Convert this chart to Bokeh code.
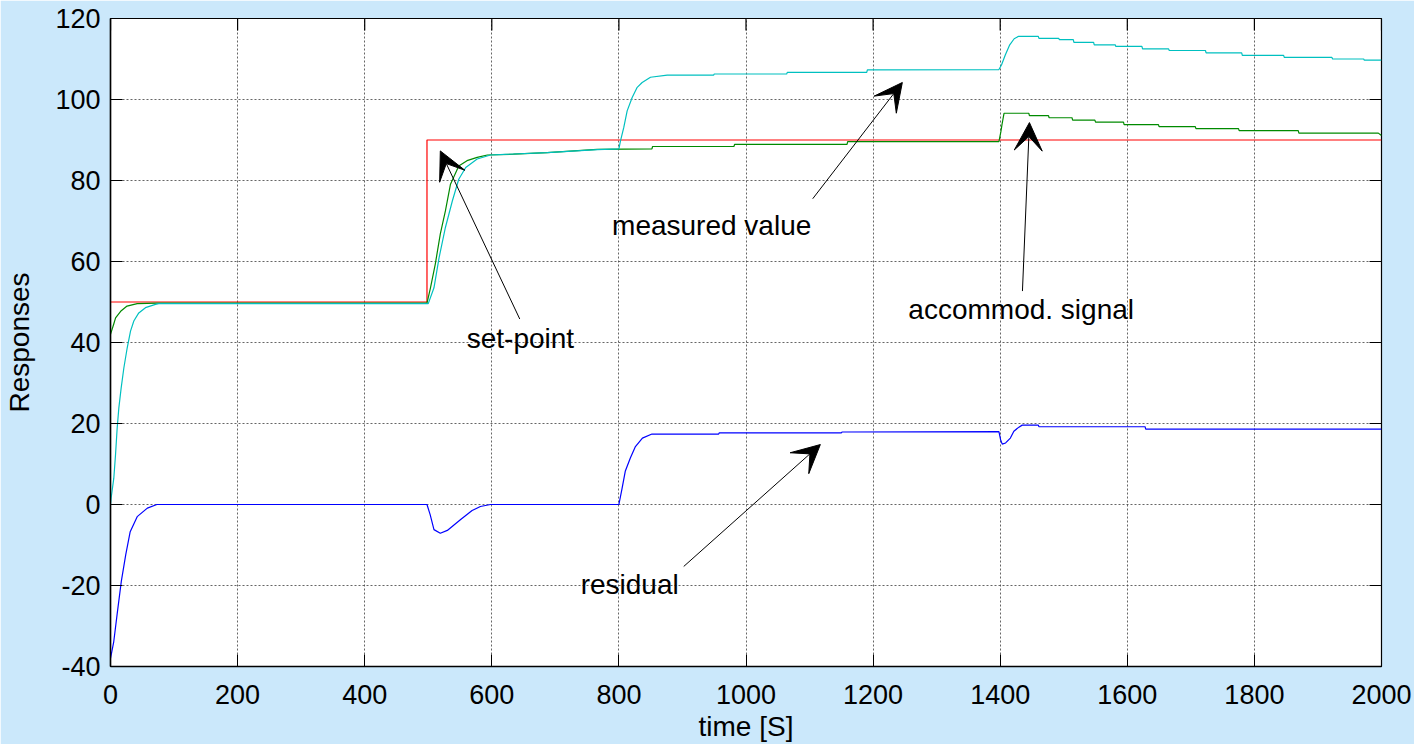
import math
from bokeh.plotting import figure
from bokeh.models import (Range1d, FixedTicker, Arrow, VeeHead, Label)
from bokeh.embed import file_html
from bokeh.resources import INLINE

# ---------------- data ----------------
x_ticks = [0, 200, 400, 600, 800, 1000, 1200, 1400, 1600, 1800, 2000]
y_ticks = [-40, -20, 0, 20, 40, 60, 80, 100, 120]

setpoint_t = [0, 498, 498, 2000]
setpoint_v = [50, 50, 90, 90]

accommod_t = [0, 5, 8, 16, 26, 42, 73,
              498, 503.5, 511, 519, 527, 535, 548, 561, 577, 593, 634, 687, 766,
              852, 853, 981, 982, 1159, 1160, 1398, 1401, 1403, 1406,
              1445, 1446, 1476, 1477, 1513, 1514, 1549, 1550, 1594, 1595,
              1649, 1650, 1707, 1708, 1775, 1776, 1869, 1870, 1995, 2000]
accommod_v = [42, 44.5, 46.1, 47.7, 49.0, 49.6, 49.7,
              49.7, 53.5, 59.3, 66.8, 72.5, 79.1, 83.6, 84.9, 85.7, 86.3, 86.5, 86.9, 87.7,
              87.8, 88.4, 88.4, 88.9, 88.9, 89.6, 89.6, 92.0, 94.0, 96.6,
              96.6, 96.0, 96.0, 95.5, 95.5, 94.9, 94.9, 94.4, 94.4, 93.8,
              93.8, 93.3, 93.3, 92.8, 92.8, 92.3, 92.3, 91.7, 91.7, 91.1]

measured_t = [0, 1, 5.2, 7.9, 10.5, 13.1, 16.8, 21, 26.3, 31.5,
              36.7, 44.5, 55, 70.8, 76, 500, 509, 517, 527, 538,
              548, 559, 577, 598, 687, 766, 800, 802.5, 807.7, 813,
              820.9, 828.8, 836.6, 849.7, 876, 949, 950, 1064, 1065, 1190,
              1191, 1398, 1402, 1408, 1415, 1422, 1429, 1460, 1461, 1492,
              1493, 1515, 1516, 1547, 1548, 1581, 1582, 1623, 1624, 1665,
              1666, 1723, 1724, 1780, 1781, 1846, 1847, 1922, 1923, 1972,
              1973, 2000]
measured_v = [0, 1.6, 6.5, 12.3, 18.9, 23.8, 28.8, 33.7, 38.7, 42.8,
              45.3, 47.3, 48.6, 49.4, 49.6, 49.6, 53.5, 60.9, 68.4, 75.0,
              80.3, 83.2, 85.3, 86.3, 86.9, 87.6, 87.8, 89.8, 93.1, 97.2,
              100.5, 103.0, 104.2, 105.5, 106.0, 106.0, 106.3, 106.3, 106.7, 106.7,
              107.3, 107.4, 108.5, 111.0, 113.5, 115.0, 115.6, 115.6, 115.1, 115.1,
              114.8, 114.8, 114.1, 114.1, 113.5, 113.5, 113.1, 113.1, 112.5, 112.5,
              112.1, 112.1, 111.5, 111.5, 110.9, 110.9, 110.4, 110.4, 110.0, 110.0,
              109.7, 109.7]

residual_t = [0, 5, 10.5, 17, 24, 31, 42, 58, 73,
              498, 503, 509, 519, 530, 551, 569, 582, 598,
              800, 805, 810, 818, 826, 837, 852,
              957, 958, 1150, 1151,
              1398, 1400.6, 1403.2, 1408.5, 1416, 1421.5, 1429.4, 1434.6,
              1460, 1461, 1628, 1629, 2000]
residual_v = [-38, -34, -27, -19, -12.4, -6.7, -3, -0.9, 0,
              0, -2.5, -6.2, -7.1, -6.4, -3.7, -1.5, -0.5, 0,
              0, 4, 8.2, 11.5, 14.3, 16.4, 17.4,
              17.4, 17.7, 17.7, 17.9,
              18.0, 16.0, 14.9, 15.2, 16.4, 18.1, 19.1, 19.6,
              19.6, 19.2, 19.2, 18.6, 18.6]

# ---------------- figure ----------------
FONT = "Liberation Sans"
BG = "#cbe8fb"
X0, X1 = 0, 2000
Y0, Y1 = -40, 120

p = figure(width=1414, height=744, output_backend="svg", toolbar_location=None,
           x_range=Range1d(X0, X1), y_range=Range1d(Y0, Y1),
           min_border_left=110, min_border_right=33, min_border_top=18, min_border_bottom=78,
           background_fill_color="white", border_fill_color=BG,
           outline_line_color="black", outline_line_width=1.2,
           x_axis_label="time [S]", y_axis_label="Responses")

for ax, ticks in ((p.xaxis[0], x_ticks), (p.yaxis[0], y_ticks)):
    ax.ticker = FixedTicker(ticks=ticks)
    ax.major_label_overrides = {t: str(t) for t in ticks}
    ax.major_label_text_font = FONT
    ax.major_label_text_font_size = "27px"
    ax.major_label_text_color = "black"
    ax.axis_label_text_font = FONT
    ax.axis_label_text_font_size = "28px"
    ax.axis_label_text_font_style = "normal"
    ax.axis_label_text_color = "black"
    ax.axis_line_color = "black"
    ax.axis_line_width = 1.5
    ax.major_tick_in = 12
    ax.major_tick_out = 0
    ax.major_tick_line_color = "black"
    ax.minor_tick_line_color = None

p.xaxis[0].major_label_standoff = 18
p.xaxis[0].axis_label_standoff = 4
p.yaxis[0].major_label_standoff = 10
p.yaxis[0].axis_label_standoff = 17

p.xgrid.ticker = FixedTicker(ticks=x_ticks)
p.ygrid.ticker = FixedTicker(ticks=y_ticks)
for g in (p.xgrid[0], p.ygrid[0]):
    g.grid_line_color = "#404040"
    g.grid_line_alpha = 0.8
    g.grid_line_dash = "2 2"
    g.grid_line_width = 1

# inner tick marks on the top and right edges of the box (half of each dash is clipped)
p.scatter(x_ticks, [Y1] * len(x_ticks), marker="dash", size=24, angle=math.pi / 2,
          line_color="black", line_width=1.2)
p.scatter([X1] * len(y_ticks), y_ticks, marker="dash", size=24,
          line_color="black", line_width=1.2)

# ---------------- series ----------------
p.line(setpoint_t, setpoint_v, line_color="#ff0000", line_width=1.2)
p.line(accommod_t, accommod_v, line_color="#008a00", line_width=1.2)
p.line(measured_t, measured_v, line_color="#00c0c0", line_width=1.2)
p.line(residual_t, residual_v, line_color="#0000ff", line_width=1.2)

# ---------------- annotations ----------------
def arrow(x0, y0, x1, y1):
    p.add_layout(Arrow(end=VeeHead(size=28, fill_color="black", line_color="black"),
                       x_start=x0, y_start=y0, x_end=x1, y_end=y1,
                       line_color="black", line_width=1))

arrow(644, 45.8, 519, 87.3)      # set-point
arrow(1105, 75.5, 1246, 104.2)   # measured value
arrow(1435, 52.7, 1446, 94.3)    # accommod. signal
arrow(902, -15.3, 1117, 14.8)    # residual

def label(x, y, txt):
    p.add_layout(Label(x=x, y=y, text=txt, text_align="center", text_baseline="middle",
                       text_font=FONT, text_font_size="28px", text_color="black"))

label(645, 41.1, "set-point")
label(946, 69.0, "measured value")
label(1433, 48.2, "accommod. signal")
label(817, -19.8, "residual")

open("out.html", "w").write(file_html(p, INLINE))
